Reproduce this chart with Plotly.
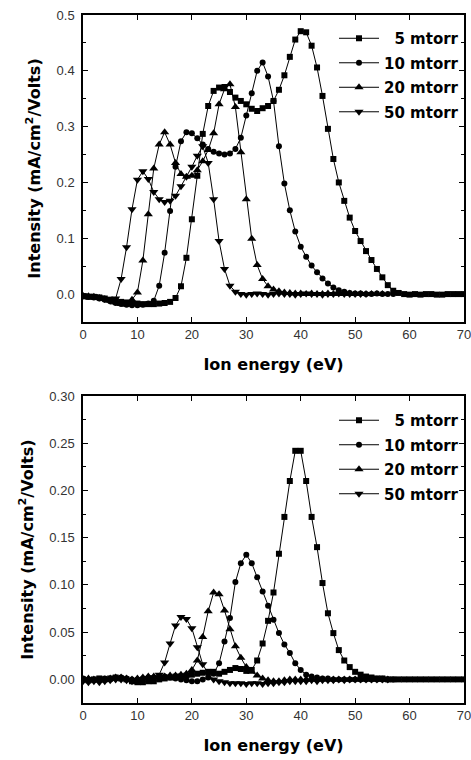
import plotly.graph_objects as go
from plotly.subplots import make_subplots

energy = list(range(0, 71))

series_names = ["\u00a0\u00a05 mtorr", "10 mtorr", "20 mtorr", "50 mtorr"]
symbols = ["square", "circle", "triangle-up", "triangle-down"]
msizes = [6, 6, 8, 8]

# ---- top panel values (E = 0,1,2,... eV) ----
top_5 = [-0.004, -0.005, -0.005, -0.006, -0.008, -0.010, -0.012, -0.014, -0.015, -0.016,
         -0.017, -0.018, -0.018, -0.018, -0.017, -0.016, -0.014, -0.007, 0.014, 0.065,
         0.134, 0.212, 0.287, 0.337, 0.364, 0.370, 0.371, 0.362, 0.352, 0.346,
         0.340, 0.332, 0.328, 0.333, 0.337, 0.346, 0.366, 0.392, 0.425, 0.456,
         0.471, 0.469, 0.445, 0.406, 0.355, 0.296, 0.242, 0.200, 0.167, 0.137,
         0.113, 0.095, 0.077, 0.061, 0.045, 0.030, 0.016, 0.006, 0.002, 0.000,
         -0.001, 0.000, -0.001, 0.000, 0.000, -0.001, -0.001, 0.000, 0.000, 0.000, 0.000]
top_10 = [-0.004, -0.005, -0.006, -0.008, -0.010, -0.013, -0.016, -0.018, -0.019, -0.020,
          -0.020, -0.019, -0.017, -0.012, 0.015, 0.074, 0.149, 0.228, 0.274, 0.290,
          0.288, 0.279, 0.268, 0.260, 0.255, 0.252, 0.250, 0.252, 0.260, 0.280,
          0.320, 0.360, 0.400, 0.415, 0.390, 0.346, 0.265, 0.198, 0.150, 0.112,
          0.085, 0.067, 0.051, 0.039, 0.028, 0.019, 0.012, 0.007, 0.004, 0.002,
          0.001, 0.001, 0.000, 0.000, 0.001, 0.000, 0.000, 0.000]
top_20 = [-0.003, -0.004, -0.005, -0.007, -0.009, -0.012, -0.015, -0.018, -0.019, -0.010,
          0.003, 0.060, 0.143, 0.225, 0.268, 0.290, 0.268, 0.235, 0.215, 0.210,
          0.212, 0.222, 0.238, 0.258, 0.288, 0.340, 0.367, 0.376, 0.335, 0.254,
          0.170, 0.099, 0.052, 0.027, 0.014, 0.008, 0.005, 0.003, 0.002, 0.001,
          0.001, 0.000, 0.001, 0.000, 0.000, 0.001, 0.000, 0.000, 0.000, 0.001,
          0.000, 0.000, 0.000, 0.000, 0.000, 0.000]
top_50 = [-0.002, -0.003, -0.004, -0.006, -0.009, -0.012, -0.008, 0.027, 0.084, 0.152,
          0.205, 0.220, 0.206, 0.183, 0.170, 0.165, 0.167, 0.176, 0.193, 0.210,
          0.228, 0.248, 0.265, 0.235, 0.170, 0.095, 0.045, 0.015, 0.004, 0.000,
          -0.001, 0.000, 0.001, 0.000, -0.001, 0.000, 0.001, 0.000, 0.000, -0.001,
          0.000, 0.001, 0.000, 0.000, -0.001, 0.000, 0.000, 0.001, 0.000, 0.000,
          0.000, 0.000, 0.000]

# ---- bottom panel values ----
bot_5 = [0.000, -0.001, 0.000, 0.001, 0.000, 0.001, 0.002, 0.001, 0.000, -0.002,
         -0.003, -0.003, -0.002, -0.002, 0.000, 0.001, 0.002, 0.003, 0.003, 0.004,
         0.005, 0.006, 0.007, 0.008, 0.008, 0.006, 0.008, 0.010, 0.012, 0.011,
         0.009, 0.010, 0.020, 0.038, 0.062, 0.092, 0.133, 0.172, 0.210, 0.242,
         0.242, 0.210, 0.172, 0.140, 0.102, 0.070, 0.049, 0.031, 0.020, 0.013,
         0.008, 0.005, 0.003, 0.002, 0.001, 0.001, 0.000, 0.000, 0.000, 0.000,
         0.000, 0.000, 0.000, 0.000, 0.000, 0.000, 0.000, 0.000, 0.000, 0.000, 0.000]
bot_10 = [0.001, 0.000, -0.001, 0.000, 0.001, 0.000, 0.001, 0.002, 0.001, 0.000,
          0.000, 0.001, 0.002, 0.002, 0.003, 0.003, 0.002, 0.001, 0.000, -0.001,
          -0.002, -0.002, 0.000, 0.002, 0.006, 0.017, 0.040, 0.065, 0.103, 0.123,
          0.132, 0.123, 0.108, 0.093, 0.078, 0.063, 0.049, 0.037, 0.028, 0.017,
          0.010, 0.005, 0.003, 0.002, 0.001, 0.001, 0.000, 0.000, 0.000, 0.000,
          0.000, 0.000, 0.000, 0.000, 0.000, 0.000, 0.000, 0.000]
bot_20 = [0.000, 0.001, 0.000, -0.001, 0.000, 0.001, 0.002, 0.002, 0.001, 0.000,
          0.001, 0.002, 0.003, 0.003, 0.002, 0.003, 0.004, 0.004, 0.005, 0.006,
          0.010, 0.020, 0.045, 0.072, 0.092, 0.090, 0.073, 0.053, 0.035, 0.023,
          0.013, 0.008, 0.004, 0.001, -0.001, -0.002, -0.002, -0.001, 0.000, 0.000,
          0.000, 0.000, 0.000, 0.000, 0.000, 0.000, 0.000, 0.000, 0.000, 0.000,
          0.000, 0.000, 0.000, 0.000, 0.000, 0.000, 0.000]
bot_50 = [-0.002, -0.003, -0.002, -0.003, -0.002, -0.001, 0.000, 0.000, -0.001, -0.002,
          -0.001, 0.000, 0.001, 0.002, 0.005, 0.018, 0.038, 0.057, 0.066, 0.064,
          0.054, 0.034, 0.016, 0.006, 0.000, -0.002, -0.003, -0.004, -0.004, -0.004,
          -0.005, -0.004, -0.004, -0.005, -0.004, -0.004, -0.003, -0.003, -0.002, -0.002,
          -0.002, -0.002, -0.001, -0.002, -0.001, -0.001, -0.001, 0.000, -0.001, 0.000,
          0.000, 0.000, 0.000, 0.000, 0.000, 0.000, 0.000]

top_series = [top_5, top_10, top_20, top_50]
bot_series = [bot_5, bot_10, bot_20, bot_50]

fig = make_subplots(rows=2, cols=1)

for i, vals in enumerate(top_series):
    fig.add_trace(go.Scatter(
        x=energy[:len(vals)], y=vals, mode="lines+markers", name=series_names[i],
        line=dict(color="black", width=1),
        marker=dict(symbol=symbols[i], size=msizes[i], color="black"),
        legend="legend", legendgroup="t%d" % i), row=1, col=1)

for i, vals in enumerate(bot_series):
    fig.add_trace(go.Scatter(
        x=energy[:len(vals)], y=vals, mode="lines+markers", name=series_names[i],
        line=dict(color="black", width=1),
        marker=dict(symbol=symbols[i], size=msizes[i], color="black"),
        legend="legend2", legendgroup="b%d" % i), row=2, col=1)

tickfont = dict(family="Liberation Sans, Arial", size=13, color="#333")
titlefont = dict(family="DejaVu Sans", size=16, color="black", weight="bold")

xcommon = dict(range=[0, 70], dtick=10, tick0=0, ticks="inside", ticklen=5, tickwidth=1,
               tickcolor="black", mirror="allticks", showline=True, linewidth=1.5,
               linecolor="black", showgrid=False, zeroline=False, tickfont=tickfont,
               automargin=False, ticklabeloverflow="allow",
               title=dict(text="Ion energy (eV)", font=titlefont, standoff=17))

ycommon = dict(ticks="inside", ticklen=5, tickwidth=1, tickcolor="black",
               mirror="allticks", showline=True, linewidth=1.5, linecolor="black",
               showgrid=False, zeroline=False, tickfont=tickfont, ticklabelstandoff=4,
               automargin=False,
               title=dict(text="Intensity (mA/cm<sup>2</sup>/Volts)", font=titlefont, standoff=12))

fig.update_layout(
    width=471, height=760,
    margin=dict(l=83, r=7, t=15, b=57),
    plot_bgcolor="white", paper_bgcolor="white",
    xaxis=dict(domain=[0, 1], anchor="y", **xcommon),
    xaxis2=dict(domain=[0, 1], anchor="y2", **xcommon),
    yaxis=dict(domain=[0.5538, 1], range=[-0.05, 0.5], dtick=0.1, tick0=0, tickformat=".1f",
               minor=dict(dtick=0.05, tick0=0, ticks="inside", ticklen=3, tickcolor="black"),
               **ycommon),
    yaxis2=dict(domain=[0, 0.4462], range=[-0.025, 0.30], dtick=0.05, tick0=0, tickformat=".2f",
                minor=dict(dtick=0.025, tick0=0, ticks="inside", ticklen=3, tickcolor="black"),
                **ycommon),
    legend=dict(x=1.0, xanchor="right", y=0.9898, yanchor="top", bgcolor="rgba(0,0,0,0)",
                font=dict(family="DejaVu Sans", size=15, color="black", weight="bold"),
                traceorder="grouped", tracegroupgap=2, itemwidth=40),
    legend2=dict(x=1.0, xanchor="right", y=0.4346, yanchor="top", bgcolor="rgba(0,0,0,0)",
                 font=dict(family="DejaVu Sans", size=15, color="black", weight="bold"),
                 traceorder="grouped", tracegroupgap=2, itemwidth=40),
    showlegend=True,
)

fig.write_html("out.html", config={"displayModeBar": False},
               post_script="document.body.style.margin='0px';")
